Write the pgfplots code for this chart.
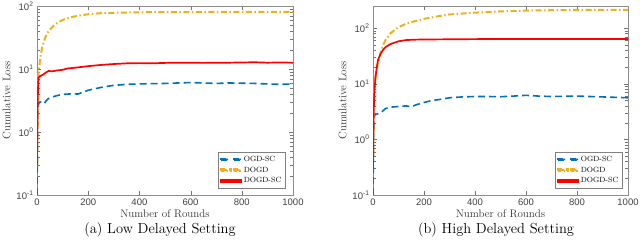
\documentclass[border=0pt]{standalone}
\usepackage{fontspec}
\setsansfont{Liberation Sans}
\usepackage{pgfplots}
\pgfplotsset{compat=1.18}
\definecolor{mblue}{rgb}{0,0.447,0.741}
\definecolor{morange}{rgb}{0.929,0.694,0.125}
\begin{document}
\begin{tikzpicture}
\useasboundingbox (0,0) rectangle (640pt,250pt);
\begin{axis}[at={(37pt,55pt)}, anchor=south west,
    scale only axis, width=256pt, height=189pt,
    ymode=log, xmin=0, xmax=1000,
    axis line style={black!45}, tick style={black!55},
    tick align=inside,
    xtick={0,200,400,600,800,1000},
    xticklabels={0,200,400,600,800,1000},
    ticklabel style={font=\sffamily\fontsize{9.5}{10}\selectfont, text=black!75},
    xlabel={Number of Rounds},
    ylabel={Cumulative Loss},
    label style={font=\fontsize{11}{12}\selectfont, text=black!80},
    xlabel style={yshift=2pt},
    legend style={font=\fontsize{7.5}{8}\selectfont, at={(1,0)}, anchor=south east, xshift=-8pt, yshift=7pt, draw=black!50, inner sep=1.5pt},
    legend cell align=left,
  ymin=0.1, ymax=100,
  ytick={0.1,1,10,100},
  yticklabels={10\textsuperscript{-1},10\textsuperscript{0},10\textsuperscript{1},10\textsuperscript{2}},
  ylabel style={yshift=-1pt}]
\addplot[color=mblue, line width=1.6pt, dash pattern=on 7pt off 4pt,
  legend image code/.code={\fill[mblue] (0pt,-0.8pt) rectangle (7pt,0.8pt) (13pt,-0.8pt) rectangle (20pt,0.8pt);}] coordinates {(0,0.1)(1,0.3)(2,1.2)(3,2.2)(5,2.7)(8,2.9)(12,3.0)(20,2.9)(28,2.8)(35,3.1)(45,3.4)(60,3.6)(80,3.8)(100,3.95)(120,4.0)(140,4.05)(160,4.0)(180,4.3)(200,4.6)(230,4.9)(260,5.2)(300,5.5)(350,5.7)(400,5.8)(450,5.85)(500,5.9)(550,6.0)(600,6.1)(650,6.0)(700,5.9)(750,6.0)(800,5.95)(850,5.9)(900,5.8)(950,5.7)(1000,5.8)};
\addlegendentry{OGD-SC}
\addplot[color=morange, line width=2pt, dash pattern=on 6pt off 2.5pt on 1.5pt off 2.5pt,
  legend image code/.code={\fill[morange] (0pt,-0.95pt) rectangle (6pt,0.95pt) (8.5pt,-0.95pt) rectangle (10pt,0.95pt) (12.5pt,-0.95pt) rectangle (18.5pt,0.95pt);}] coordinates {(1,0.3)(3,5)(5,8)(10,12)(15,17)(20,22)(30,30)(40,37)(50,42)(70,51)(100,60)(130,66)(160,70)(200,74)(250,77)(300,78)(400,79.5)(500,80)(600,80)(700,80.5)(800,80.5)(900,80.5)(1000,81)};
\addlegendentry{DOGD}
\addplot[color=red, line width=1.7pt, solid,
  legend image code/.code={\fill[red] (0pt,-0.9pt) rectangle (20pt,0.9pt);}] coordinates {(0,0.3)(2,2)(4,5)(6,7.3)(10,7.6)(15,7.8)(25,8.2)(35,8.8)(45,9.3)(60,9.2)(80,9.5)(100,9.7)(120,10.2)(150,10.5)(200,11.1)(250,11.6)(300,12)(350,12.3)(400,12.4)(450,12.3)(500,12.5)(550,12.6)(600,12.6)(650,12.5)(700,12.6)(750,12.6)(800,12.7)(850,12.8)(900,12.6)(950,12.7)(1000,12.6)};
\addlegendentry{DOGD-SC}
\end{axis}
\begin{axis}[at={(373pt,55pt)}, anchor=south west,
    scale only axis, width=255pt, height=189pt,
    ymode=log, xmin=0, xmax=1000,
    axis line style={black!45}, tick style={black!55},
    tick align=inside,
    xtick={0,200,400,600,800,1000},
    xticklabels={0,200,400,600,800,1000},
    ticklabel style={font=\sffamily\fontsize{9.5}{10}\selectfont, text=black!75},
    xlabel={Number of Rounds},
    ylabel={Cumulative Loss},
    label style={font=\fontsize{11}{12}\selectfont, text=black!80},
    xlabel style={yshift=2pt},
    legend style={font=\fontsize{7.5}{8}\selectfont, at={(1,0)}, anchor=south east, xshift=-6pt, yshift=7pt, draw=black!50, inner sep=1.5pt},
    legend cell align=left,
  ymin=0.1, ymax=250,
  ytick={0.1,1,10,100},
  yticklabels={10\textsuperscript{-1},10\textsuperscript{0},10\textsuperscript{1},10\textsuperscript{2}},
  ylabel style={yshift=-1pt}]
\addplot[color=mblue, line width=1.6pt, dash pattern=on 7pt off 4pt,
  legend image code/.code={\fill[mblue] (0pt,-0.8pt) rectangle (7pt,0.8pt) (13pt,-0.8pt) rectangle (20pt,0.8pt);}] coordinates {(0,0.1)(1,0.3)(2,1.2)(4,2.4)(6,2.7)(10,2.8)(20,2.9)(30,3.0)(40,3.3)(50,3.6)(70,3.8)(100,3.9)(130,4.0)(150,3.85)(170,4.2)(200,4.6)(230,5.0)(260,5.2)(300,5.6)(350,5.8)(400,5.9)(450,5.9)(500,5.85)(550,6.0)(600,6.2)(650,6.0)(700,5.9)(750,5.95)(800,6.0)(850,5.9)(900,5.8)(950,5.7)(1000,5.6)};
\addlegendentry{OGD-SC}
\addplot[color=morange, line width=2pt, dash pattern=on 6pt off 2.5pt on 1.5pt off 2.5pt,
  legend image code/.code={\fill[morange] (0pt,-0.95pt) rectangle (6pt,0.95pt) (8.5pt,-0.95pt) rectangle (10pt,0.95pt) (12.5pt,-0.95pt) rectangle (18.5pt,0.95pt);}] coordinates {(1,0.5)(3,4)(5,8)(10,14)(15,19)(20,24)(30,36)(40,50)(50,62)(70,82)(100,104)(130,120)(160,132)(200,147)(250,162)(300,176)(350,183)(400,190)(500,200)(600,207)(700,210)(800,212)(900,213)(1000,214)};
\addlegendentry{DOGD}
\addplot[color=red, line width=1.7pt, solid,
  legend image code/.code={\fill[red] (0pt,-0.9pt) rectangle (20pt,0.9pt);}] coordinates {(0,0.3)(2,2)(4,5)(6,8)(10,13)(15,20)(20,27)(30,35)(40,41)(50,46)(70,52)(100,58)(130,61)(160,62)(200,62.5)(300,63)(400,63.5)(600,64)(800,64)(1000,64)};
\addlegendentry{DOGD-SC}
\end{axis}
\node[font=\fontsize{14.5}{16}\selectfont] at (160pt,20pt) {(a) Low Delayed Setting};
\node[font=\fontsize{14.5}{16}\selectfont] at (496pt,20pt) {(b) High Delayed Setting};
\end{tikzpicture}
\end{document}
